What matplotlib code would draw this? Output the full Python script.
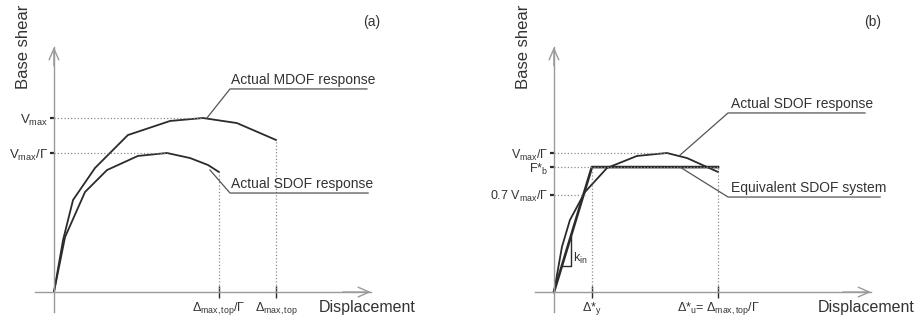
import numpy as np
import matplotlib
matplotlib.use('Agg')
import matplotlib.pyplot as plt

plt.rcParams['font.family'] = ['Liberation Sans', 'DejaVu Sans']
plt.rcParams['mathtext.fontset'] = 'custom'
plt.rcParams['mathtext.rm'] = 'Liberation Sans'
plt.rcParams['mathtext.it'] = 'Liberation Sans:italic'
plt.rcParams['mathtext.default'] = 'rm'

# capacity curves (displacement, base shear), arbitrary units
mdof_d = [0, 4.1, 8.6, 18.5, 33.3, 52.3, 67.1, 82.4, 100.0]
mdof_v = [0, 29.9, 52.9, 71.3, 90.2, 98.3, 100.0, 97.1, 87.4]

sdof_a_d = [0, 5.0, 14.0, 23.9, 37.8, 50.9, 61.3, 69.4, 74.3]
sdof_a_v = [0, 31.6, 57.5, 70.1, 78.2, 79.9, 77.0, 73.0, 69.0]

sdof_b_d = [0, 3.6, 7.2, 14.0, 23.9, 37.4, 50.9, 59.9, 73.9]
sdof_b_v = [0, 25.9, 41.4, 57.5, 71.3, 78.2, 79.9, 77.0, 69.0]

# equivalent bilinear SDOF system
dy_star = 17.1
du_star = 73.9
fb_star = 71.8
bilin_d = [0, dy_star, du_star]
bilin_v = [0, fb_star, fb_star]

vmax = 100.0
vmax_g = 79.9
d_top = 100.0
d_top_g = 74.3
v07 = 0.7 * vmax_g
d07 = 14.0     # where 0.7 Vmax/G meets the curve

AX = '#9a9a9a'
LN = '#2b2b2b'
DOT = '#8c8c8c'
TXT = '#333333'

fig = plt.figure(figsize=(9.21, 3.22), dpi=100)
ax1 = fig.add_axes([0, 0, 460 / 921, 1])
ax2 = fig.add_axes([460 / 921, 0, 461 / 921, 1])

ax1.set_xlim(-24.3, 182.9)
ax2.set_xlim(-42.3, 165.3)
for ax in (ax1, ax2):
    ax.set_ylim(-17.2, 167.8)
    ax.patch.set_visible(False)
    for s in ('top', 'right'):
        ax.spines[s].set_visible(False)
    ax.spines['left'].set_position(('data', 0))
    ax.spines['bottom'].set_position(('data', 0))
    ax.spines['left'].set_bounds(-11.5, 140.8)
    ax.spines['bottom'].set_bounds(-8.5, 142.8)
    for s in ('left', 'bottom'):
        ax.spines[s].set_color(AX)
        ax.spines[s].set_linewidth(1.0)
    ax.annotate('', xy=(0, 140.8), xytext=(0, 130),
                arrowprops=dict(arrowstyle='->,head_length=0.8,head_width=0.35',
                                color=AX, lw=1.0, shrinkA=0, shrinkB=0))
    ax.annotate('', xy=(142.8, 0), xytext=(130, 0),
                arrowprops=dict(arrowstyle='->,head_length=0.8,head_width=0.35',
                                color=AX, lw=1.0, shrinkA=0, shrinkB=0))
    ax.tick_params(axis='y', direction='out', length=3, width=1.6, color=LN,
                   pad=1, labelsize=9.5, labelcolor=TXT)
    ax.tick_params(axis='x', direction='inout', length=8, width=1.0, color=LN,
                   pad=2, labelsize=9, labelcolor=TXT)
    ax.text(-13.8, 141.0, 'Base shear', rotation=90, ha='center', va='center',
            fontsize=12, color=TXT)

# (a) MDOF vs SDOF
ax1.plot(mdof_d, mdof_v, color=LN, lw=1.3)
ax1.plot(sdof_a_d, sdof_a_v, color=LN, lw=1.3)
ax1.plot([0, mdof_d[6]], [vmax, vmax], ls=':', color=DOT, lw=0.9)
ax1.plot([0, sdof_a_d[5]], [vmax_g, vmax_g], ls=':', color=DOT, lw=0.9)
ax1.plot([d_top, d_top], [0, mdof_v[-1]], ls=':', color=DOT, lw=0.9)
ax1.plot([d_top_g, d_top_g], [0, sdof_a_v[-1]], ls=':', color=DOT, lw=0.9)
ax1.set_yticks([vmax, vmax_g], [r'V$_{\mathregular{max}}$', r'V$_{\mathregular{max}}$/$\Gamma$'])
ax1.set_xticks([d_top_g, d_top],
               [r'$\Delta_{\mathregular{max,top}}$/$\Gamma$', r'$\Delta_{\mathregular{max,top}}$'])

ax1.plot([68.9, 79.3, 141.0], [100.0, 116.7, 116.7], color='#555555', lw=0.9)
ax1.text(79.8, 117.6, 'Actual MDOF response', fontsize=10, color=TXT, va='bottom')
ax1.plot([70.3, 79.3, 141.5], [70.1, 56.9, 56.9], color='#555555', lw=0.9)
ax1.text(79.8, 57.8, 'Actual SDOF response', fontsize=10, color=TXT, va='bottom')
ax1.text(119.5, -8.6, 'Displacement', fontsize=11.5, color=TXT, ha='left', va='center')
ax1.text(143.3, 155.2, '(a)', fontsize=10, color=TXT, ha='center', va='center')

# (b) SDOF and equivalent bilinear system
ax2.plot(sdof_b_d, sdof_b_v, color=LN, lw=1.3)
ax2.plot(bilin_d, bilin_v, color=LN, lw=1.9)
ax2.plot([0, sdof_b_d[6]], [vmax_g, vmax_g], ls=':', color=DOT, lw=0.9)
ax2.plot([0, du_star], [fb_star, fb_star], ls=':', color=DOT, lw=0.9)
ax2.plot([0, d07], [v07, v07], ls=':', color=DOT, lw=0.9)
ax2.plot([dy_star, dy_star], [0, fb_star], ls=':', color=DOT, lw=0.9)
ax2.plot([du_star, du_star], [0, fb_star], ls=':', color=DOT, lw=0.9)
ax2.set_yticks([vmax_g, fb_star, v07],
               [r'V$_{\mathregular{max}}$/$\Gamma$', r'F*$_{\mathregular{b}}$',
                r'0.7 V$_{\mathregular{max}}$/$\Gamma$'])
ax2.set_xticks([dy_star, du_star],
               [r'$\Delta$*$_{\mathregular{y}}$',
                r'$\Delta$*$_{\mathregular{u}}$= $\Delta_{\mathregular{max,top}}$/$\Gamma$'])
ax2.tick_params(axis='y', labelsize=9)

# initial stiffness triangle
k_in = fb_star / dy_star
t0, t1 = 3.6, 7.7
ax2.plot([t0, t1, t1], [k_in * t0, k_in * t0, k_in * t1], color=LN, lw=1.0)
ax2.text(t1 + 1.0, k_in * t0 + 4, r'k$_{\mathregular{in}}$', fontsize=9, color=TXT,
         ha='left', va='center')

ax2.plot([56.8, 78.4, 140.1], [78.7, 102.9, 102.9], color='#555555', lw=0.9)
ax2.text(79.8, 103.8, 'Actual SDOF response', fontsize=10, color=TXT, va='bottom')
ax2.plot([56.8, 78.4, 146.9], [71.8, 54.6, 54.6], color='#555555', lw=0.9)
ax2.text(79.8, 55.5, 'Equivalent SDOF system', fontsize=10, color=TXT, va='bottom')
ax2.text(118.9, -8.6, 'Displacement', fontsize=11.5, color=TXT, ha='left', va='center')
ax2.text(143.3, 155.2, '(b)', fontsize=10, color=TXT, ha='center', va='center')

fig.savefig('out.png', dpi=100)
